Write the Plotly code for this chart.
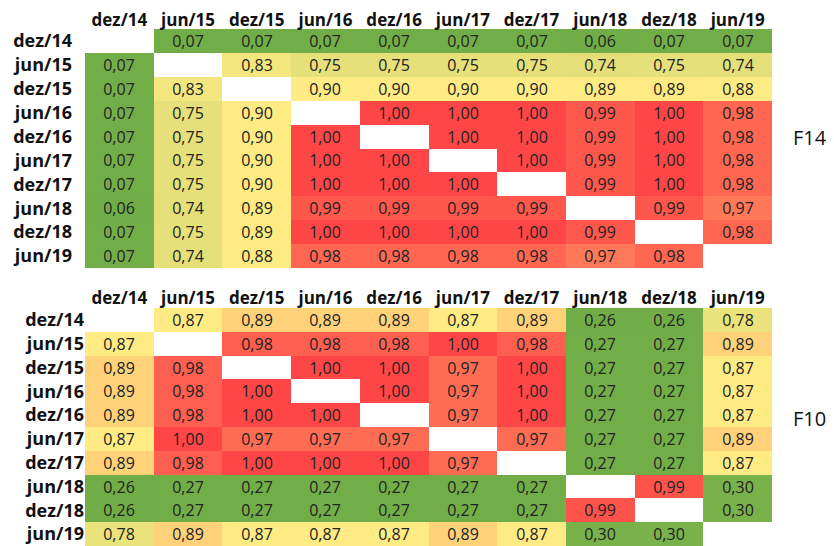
import numpy as np
import plotly.graph_objects as go

labels = ["dez/14", "jun/15", "dez/15", "jun/16", "dez/16",
          "jun/17", "dez/17", "jun/18", "dez/18", "jun/19"]

N = None
f14 = [
    [N, 0.07, 0.07, 0.07, 0.07, 0.07, 0.07, 0.06, 0.07, 0.07],
    [0.07, N, 0.83, 0.75, 0.75, 0.75, 0.75, 0.74, 0.75, 0.74],
    [0.07, 0.83, N, 0.90, 0.90, 0.90, 0.90, 0.89, 0.89, 0.88],
    [0.07, 0.75, 0.90, N, 1.00, 1.00, 1.00, 0.99, 1.00, 0.98],
    [0.07, 0.75, 0.90, 1.00, N, 1.00, 1.00, 0.99, 1.00, 0.98],
    [0.07, 0.75, 0.90, 1.00, 1.00, N, 1.00, 0.99, 1.00, 0.98],
    [0.07, 0.75, 0.90, 1.00, 1.00, 1.00, N, 0.99, 1.00, 0.98],
    [0.06, 0.74, 0.89, 0.99, 0.99, 0.99, 0.99, N, 0.99, 0.97],
    [0.07, 0.75, 0.89, 1.00, 1.00, 1.00, 1.00, 0.99, N, 0.98],
    [0.07, 0.74, 0.88, 0.98, 0.98, 0.98, 0.98, 0.97, 0.98, N],
]

f10 = [
    [N, 0.87, 0.89, 0.89, 0.89, 0.87, 0.89, 0.26, 0.26, 0.78],
    [0.87, N, 0.98, 0.98, 0.98, 1.00, 0.98, 0.27, 0.27, 0.89],
    [0.89, 0.98, N, 1.00, 1.00, 0.97, 1.00, 0.27, 0.27, 0.87],
    [0.89, 0.98, 1.00, N, 1.00, 0.97, 1.00, 0.27, 0.27, 0.87],
    [0.89, 0.98, 1.00, 1.00, N, 0.97, 1.00, 0.27, 0.27, 0.87],
    [0.87, 1.00, 0.97, 0.97, 0.97, N, 0.97, 0.27, 0.27, 0.89],
    [0.89, 0.98, 1.00, 1.00, 1.00, 0.97, N, 0.27, 0.27, 0.87],
    [0.26, 0.27, 0.27, 0.27, 0.27, 0.27, 0.27, N, 0.99, 0.30],
    [0.26, 0.27, 0.27, 0.27, 0.27, 0.27, 0.27, 0.99, N, 0.30],
    [0.78, 0.89, 0.87, 0.87, 0.87, 0.89, 0.87, 0.30, 0.30, N],
]

GREEN = "rgb(112,173,71)"
YELLOW = "rgb(255,235,132)"
RED = "rgb(255,70,70)"


def scale_for(m):
    a = np.array([[np.nan if v is None else v for v in r] for r in m], float)
    lo, hi, mid = np.nanmin(a), np.nanmax(a), np.nanpercentile(a, 50)
    p = (mid - lo) / (hi - lo)
    return lo, hi, [[0, GREEN], [p, YELLOW], [1, RED]]


def texts(m):
    return [["" if v is None else f"{v:.2f}".replace(".", ",") for v in r] for r in m]


fig = go.Figure()
for m, xa, ya in [(f14, "x", "y"), (f10, "x2", "y2")]:
    lo, hi, cs = scale_for(m)
    fig.add_trace(go.Heatmap(
        z=m, x=labels, y=labels, text=texts(m), texttemplate="%{text}",
        textfont=dict(family="Open Sans", size=16, color="#222222"),
        colorscale=cs, zmin=lo, zmax=hi, showscale=False,
        xaxis=xa, yaxis=ya, hoverongaps=False,
    ))

# the page body adds an 8px offset; work in figure coordinates
OFF = 8
W, H = 834 - OFF, 546 - OFF


def px(x):
    return (x - OFF) / W


def py(y):
    return 1 - (y - OFF) / H


xfont = dict(family="Open Sans", size=17, color="#111111", weight="bold")
yfont = dict(family="Open Sans", size=18, color="#111111", weight="bold")
common_x = dict(domain=[px(85), px(772)], side="top", showgrid=False,
                zeroline=False, ticks="", showline=False, tickfont=xfont,
                fixedrange=True, automargin=False)
common_y = dict(autorange="reversed", showgrid=False, zeroline=False,
                ticks="", showline=False, tickfont=yfont, fixedrange=True,
                automargin=False)

fig.update_layout(
    width=W, height=H, margin=dict(l=0, r=0, t=0, b=0),
    paper_bgcolor="white", plot_bgcolor="white",
    xaxis=dict(common_x, anchor="y", ticklabelstandoff=-1),
    yaxis=dict(common_y, anchor="x", domain=[py(268), py(29)],
               ticklabelstandoff=12),
    xaxis2=dict(common_x, anchor="y2", ticklabelstandoff=0),
    yaxis2=dict(common_y, anchor="x2", domain=[0, py(308)]),
    annotations=[
        dict(text="F14", x=px(791), y=py(137), xref="paper", yref="paper",
             xanchor="left", yanchor="middle", showarrow=False,
             font=dict(family="Open Sans", size=20, color="#111111")),
        dict(text="F10", x=px(791), y=py(418), xref="paper", yref="paper",
             xanchor="left", yanchor="middle", showarrow=False,
             font=dict(family="Open Sans", size=20, color="#111111")),
    ],
)

fig.write_html("out.html")
